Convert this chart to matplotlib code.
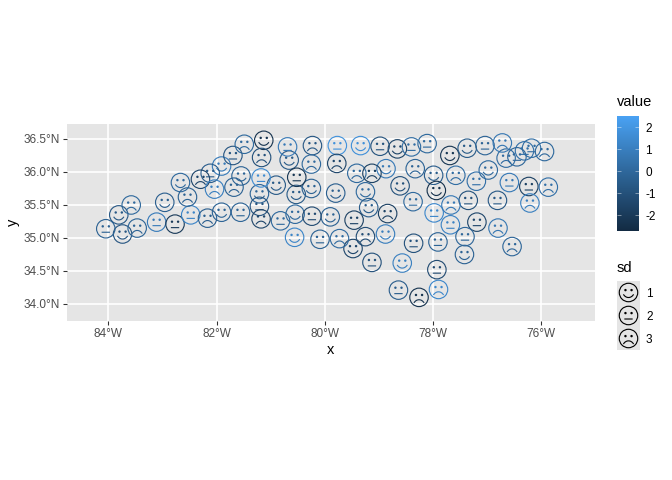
import numpy as np
import matplotlib
matplotlib.use('Agg')
import matplotlib.pyplot as plt
from matplotlib.colors import LinearSegmentedColormap, Normalize
from matplotlib.path import Path

plt.rcParams['font.family'] = ['Liberation Sans', 'DejaVu Sans']

# values -------------------------------
lon = [-84.05, -83.81, -83.58, -83.74, -83.47, -83.11, -82.77, -82.96, -82.67, -82.54,
       -82.48, -82.17, -82.30, -82.12, -81.91, -82.04, -81.91, -81.70, -81.49, -81.13,
       -81.17, -81.55, -81.68, -81.56, -81.18, -81.21, -81.21, -81.18, -80.90, -80.82,
       -80.69, -80.66, -80.23, -80.25, -80.52, -80.53, -80.25, -80.55, -80.24, -79.90,
       -80.56, -80.09, -79.77, -79.34, -78.98, -78.66, -78.40, -78.11, -79.78, -79.41,
       -79.13, -78.87, -78.33, -77.99, -77.69, -77.37, -77.04, -76.72, -76.65, -76.45,
       -76.31, -76.18, -75.94, -77.58, -77.20, -76.98, -76.59, -76.23, -75.87, -76.21,
       -76.81, -77.35, -77.94, -78.61, -79.80, -79.25, -78.37, -77.67, -77.98, -77.68,
       -77.19, -76.80, -76.54, -77.41, -77.42, -77.91, -78.36, -78.88, -79.25, -79.73,
       -79.48, -79.19, -78.84, -79.46, -79.13, -78.57, -77.93, -77.90, -78.64, -78.26]
lat = [35.14, 35.35, 35.50, 35.06, 35.15, 35.24, 35.21, 35.54, 35.84, 35.62,
       35.35, 35.30, 35.89, 35.98, 36.09, 35.74, 35.39, 36.25, 36.42, 36.48,
       36.22, 35.94, 35.77, 35.39, 35.91, 35.67, 35.48, 35.29, 35.80, 35.26,
       36.38, 36.18, 36.40, 36.12, 35.92, 35.66, 35.75, 35.36, 35.33, 35.32,
       35.01, 34.98, 36.40, 36.40, 36.39, 36.35, 36.38, 36.43, 36.13, 35.98,
       35.98, 36.05, 36.05, 35.95, 36.25, 36.36, 36.40, 36.44, 36.21, 36.23,
       36.32, 36.36, 36.31, 35.95, 35.86, 36.03, 35.84, 35.78, 35.77, 35.53,
       35.57, 35.57, 35.72, 35.79, 35.68, 35.70, 35.55, 35.50, 35.38, 35.20,
       35.24, 35.15, 34.87, 35.02, 34.75, 34.94, 34.92, 35.06, 35.02, 34.99,
       34.84, 35.46, 35.37, 35.27, 34.63, 34.62, 34.52, 34.22, 34.21, 34.10]
value = [-0.3, -0.7, 0.0, -0.8, -0.2, 0.8, -2.0, -0.4, 0.0, -0.3,
         1.2, -0.4, -1.5, -0.5, 0.8, 1.0, -0.2, -0.8, 0.0, -2.3,
         -1.0, -0.2, -0.3, -0.2, 1.5, -0.2, -0.8, -1.5, -0.6, 0.0,
         0.7, -0.6, -0.7, 0.0, -2.2, -0.6, -0.3, 0.0, -1.3, -0.3,
         1.2, -0.3, 1.8, 1.7, -0.9, -1.6, 0.2, 0.0, -1.5, 0.0,
         -1.7, 0.7, -0.2, -0.5, -2.2, -0.6, -0.2, 0.6, 0.1, -0.1,
         0.3, 0.2, 0.0, 0.2, 0.3, 0.0, 0.7, -1.7, 0.3, 1.0,
         -0.7, -1.0, -2.4, -1.0, -0.4, 0.0, 0.0, 0.7, 1.3, 1.1,
         -1.5, 0.6, -0.1, -0.1, -0.3, -0.2, -1.0, 0.9, -1.2, 0.1,
         -1.5, -0.5, -1.7, -1.7, -1.0, 1.0, -1.3, 1.3, -0.5, -2.3]
sd = [2, 1, 3, 1, 3, 2, 2, 1, 1, 3,
      2, 3, 3, 2, 1, 3, 1, 2, 3, 1,
      3, 1, 3, 2, 2, 1, 2, 3, 1, 2,
      2, 1, 3, 3, 2, 1, 1, 1, 2, 1,
      1, 2, 2, 1, 2, 1, 2, 2, 3, 3,
      3, 1, 3, 1, 1, 1, 2, 3, 3, 2,
      2, 2, 3, 3, 2, 1, 2, 2, 3, 3,
      2, 2, 1, 1, 1, 1, 2, 3, 2, 2,
      2, 3, 3, 2, 1, 2, 2, 1, 3, 3,
      1, 1, 3, 2, 2, 1, 2, 3, 2, 3]

x_ticks = [-84, -82, -80, -78, -76]
x_labels = ['84°W', '82°W', '80°W', '78°W', '76°W']
y_ticks = [34.0, 34.5, 35.0, 35.5, 36.0, 36.5]
y_labels = ['34.0°N', '34.5°N', '35.0°N', '35.5°N', '36.0°N', '36.5°N']
cbar_ticks = [-2, -1, 0, 1, 2]
cbar_labels = ['-2', '-1', '0', '1', '2']
sd_levels = [1, 2, 3]

W, H = 672, 480
cmap = LinearSegmentedColormap.from_list('gg', ['#132B43', '#2E6699', '#4AA3F5'])
norm = Normalize(-2.71, 2.5)


# 픽셀 좌표로 axes 만들기 ----------
def px_axes(left, top, right, bottom):
    return fig.add_axes([left / W, 1 - bottom / H, (right - left) / W, (bottom - top) / H])


def face_marker(mood):
    eye_l = Path.circle((-0.33, 0.26), 0.07)
    eye_r = Path.circle((0.33, 0.26), 0.07)
    if mood == 1:
        mouth = Path([(-0.55, -0.2), (-0.28, -0.66), (0.28, -0.66), (0.55, -0.2)],
                     [Path.MOVETO, Path.CURVE4, Path.CURVE4, Path.CURVE4])
    elif mood == 2:
        mouth = Path([(-0.45, -0.38), (0.45, -0.38)], [Path.MOVETO, Path.LINETO])
    else:
        mouth = Path([(-0.55, -0.6), (-0.28, -0.14), (0.28, -0.14), (0.55, -0.6)],
                     [Path.MOVETO, Path.CURVE4, Path.CURVE4, Path.CURVE4])
    return Path.make_compound_path(Path.unit_circle(), eye_l, eye_r, mouth)


fig = plt.figure(figsize=(7, 5), dpi=96)

# 메인 패널 ----------
ax = px_axes(67, 124, 595, 321)
ax.set_facecolor('#E5E5E5')
for s in ax.spines.values():
    s.set_visible(False)
ax.set_xlim(-84.767, -75.007)
ax.set_ylim(33.742, 36.727)
ax.set_xticks(x_ticks, x_labels)
ax.set_yticks(y_ticks, y_labels)
ax.tick_params(length=2.75, width=0.8, color='#333333', labelcolor='#4D4D4D', labelsize=8.8, pad=2.2)
ax.grid(True, color='white', linewidth=1.25)
ax.set_axisbelow(True)
ax.set_xlabel('x', fontsize=11, labelpad=2.2)
ax.set_ylabel('y', fontsize=11, labelpad=2.7)

lon_a, lat_a, value_a, sd_a = np.array(lon), np.array(lat), np.array(value), np.array(sd)
for mood in sd_levels:
    m = sd_a == mood
    ax.scatter(lon_a[m], lat_a[m], s=192, marker=face_marker(mood),
               facecolors='none', edgecolors=cmap(norm(value_a[m])), linewidths=0.85)

# value 범례 ----------
cax = px_axes(617, 116, 639, 231)
cax.imshow(np.linspace(2.5, -2.71, 200).reshape(-1, 1), cmap=cmap, norm=norm, aspect='auto',
           extent=[0, 1, -2.71, 2.5])
cax.hlines(cbar_ticks, 0, 0.2, color='white', linewidth=0.4, alpha=0.8)
cax.hlines(cbar_ticks, 0.8, 1, color='white', linewidth=0.4, alpha=0.8)
cax.set_xticks([])
cax.yaxis.tick_right()
cax.set_yticks(cbar_ticks, cbar_labels)
cax.tick_params(length=0, labelsize=8.8, pad=4.5)
for s in cax.spines.values():
    s.set_visible(False)
fig.text(617 / W, 1 - 102 / H, 'value', fontsize=11, va='center')

# sd 범례 ----------
sax = px_axes(617, 281, 640, 350)
sax.set_facecolor('#E5E5E5')
sax.set_xlim(0, 1)
sax.set_ylim(3, 0)
for s in sax.spines.values():
    s.set_visible(False)
sax.set_xticks([])
sax.yaxis.tick_right()
sax.set_yticks([0.5, 1.5, 2.5], [str(v) for v in sd_levels])
sax.tick_params(length=0, labelsize=8.8, pad=4.5)
for i, mood in enumerate(sd_levels):
    sax.scatter([0.5], [i + 0.5], s=192, marker=face_marker(mood),
                facecolors='none', edgecolors='black', linewidths=0.85, clip_on=False)
fig.text(617 / W, 1 - 268 / H, 'sd', fontsize=11, va='center')

plt.savefig('out.png', dpi=96)
